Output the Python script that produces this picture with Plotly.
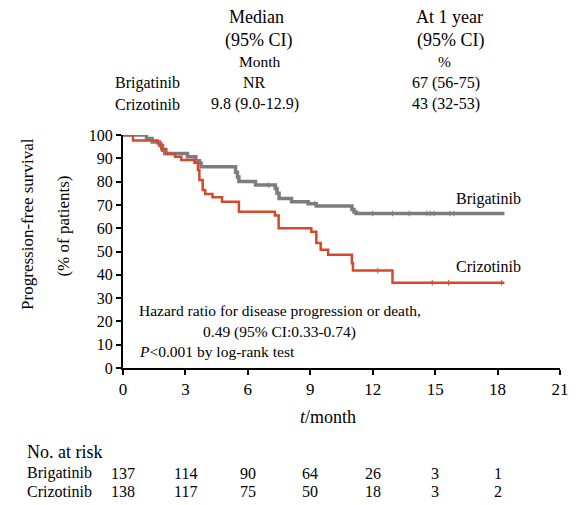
import plotly.graph_objects as go

# ---------------- data ----------------
brig_t = [0, 1.13, 1.4, 1.76, 1.9, 2.0, 3.1, 3.5, 3.67, 3.75, 5.41, 5.5, 5.57, 6.37, 7.32, 7.4, 7.5, 8.1, 8.9, 9.29, 11.0, 11.1, 11.2, 18.33]
brig_s = [100, 98.5, 97, 95.5, 93.5, 92.1, 90.7, 89, 88, 86.4, 84, 82, 80, 78.5, 77, 75, 72.8, 71.4, 70.5, 69.5, 68, 67, 66.3, 66.3]
criz_t = [0, 0.48, 1.67, 1.84, 2.08, 2.5, 2.8, 3.43, 3.6, 3.67, 3.83, 3.95, 4.3, 4.76, 5.57, 7.3, 7.48, 9.05, 9.29, 9.5, 9.86, 11.0, 11.05, 12.95, 18.33]
criz_s = [100, 97.6, 96.4, 94, 91.8, 90.7, 89.3, 88.1, 85, 80.7, 76.4, 74.7, 73.3, 71.4, 67.1, 65.5, 60, 58.5, 53.6, 50.7, 48.6, 45, 41.8, 36.6, 36.6]
brig_censor = [7.0, 9.22, 12.0, 12.95, 13.75, 14.6, 14.76, 14.95, 15.7, 15.9]
criz_censor = [12.24, 14.86, 15.65, 18.2]

x_ticks = [0, 3, 6, 9, 12, 15, 18, 21]
y_ticks = [0, 10, 20, 30, 40, 50, 60, 70, 80, 90, 100]
risk_times = [0, 3, 6, 9, 12, 15, 18]
risk_brig = [137, 114, 90, 64, 26, 3, 1]
risk_criz = [138, 117, 75, 50, 18, 3, 2]

header_rows = ["Brigatinib", "Crizotinib"]
median_vals = ["NR", "9.8 (9.0-12.9)"]
year_vals = ["67 (56-75)", "43 (32-53)"]

GRAY = "#7d7d7d"
RED = "#d6482c"
FONT = "Liberation Serif"

def step_at(ts, ss, t):
    v = ss[0]
    for ti, si in zip(ts, ss):
        if ti <= t:
            v = si
    return v

# ---------------- layout geometry (pixels) ----------------
OFF = 8  # page body margin
W, H = 581 - OFF, 505 - OFF
L, R, T, B = 123 - OFF, 17, 135 - OFF, 137
PW, PH = W - L - R, H - T - B

def px(x):
    return (x - OFF - L) / PW

def py(y):
    return (H - B - (y - OFF)) / PH

fig = go.Figure()
fig.add_trace(go.Scatter(x=brig_t, y=brig_s, mode="lines", line=dict(color=GRAY, width=3.5, shape="hv"),
                         cliponaxis=False, showlegend=False, hoverinfo="skip"))
fig.add_trace(go.Scatter(x=criz_t, y=criz_s, mode="lines", line=dict(color=RED, width=2.5, shape="hv"),
                         cliponaxis=False, showlegend=False, hoverinfo="skip"))
fig.add_trace(go.Scatter(x=brig_censor, y=[step_at(brig_t, brig_s, t) for t in brig_censor], mode="markers",
                         marker=dict(symbol="line-ns", size=4, line=dict(color=GRAY, width=1)),
                         showlegend=False, hoverinfo="skip"))
fig.add_trace(go.Scatter(x=criz_censor, y=[step_at(criz_t, criz_s, t) for t in criz_censor], mode="markers",
                         marker=dict(symbol="line-ns", size=4, line=dict(color=RED, width=1)),
                         showlegend=False, hoverinfo="skip"))

ann = []
def A(text, x, y, size, xanchor="center", xref="paper", yref="paper", **kw):
    ann.append(dict(text=text, x=x, y=y, xref=xref, yref=yref, xanchor=xanchor, yanchor="middle",
                    showarrow=False, font=dict(family=FONT, size=size, color="black"), **kw))

# header table
A("Median", px(258), py(17), 18)
A("(95% CI)", px(260), py(40), 18)
A("Month", px(261), py(61), 15.5)
A("At 1 year", px(452), py(17), 18)
A("(95% CI)", px(453), py(40), 18)
A("%", px(447), py(61), 15.5)
for i, name in enumerate(header_rows):
    yy = [83, 104][i]
    A(name, px(113), py(yy), 16, xanchor="left")
    A(median_vals[i], px(256), py(yy), 16)
    A(year_vals[i], px(449), py(yy), 16)

# curve labels
A("Brigatinib", 15.9, 72.5, 16, xanchor="left", xref="x", yref="y")
A("Crizotinib", 15.9, 43.5, 16, xanchor="left", xref="x", yref="y")

# hazard text
A("Hazard ratio for disease progression or death,", 0.65, 24.5, 15.5, xanchor="left", xref="x", yref="y")
A("0.49 (95% CI:0.33-0.74)", 7.5, 15.5, 15.5, xref="x", yref="y")
A("<i>P</i>&lt;0.001 by log-rank test", 0.65, 7.0, 15.5, xanchor="left", xref="x", yref="y")

# y title
A("Progression-free survival", px(26), py(224), 17, textangle=-90)
A("(% of patients)", px(62), py(226), 17, textangle=-90)

# x title
A("<i>t</i>/month", px(330), py(417), 18)

# at risk table
A("No. at risk", px(24), py(452), 18, xanchor="left")
A("Brigatinib", px(24), py(473), 16, xanchor="left")
A("Crizotinib", px(24), py(491), 16, xanchor="left")
for t, b, c in zip(risk_times, risk_brig, risk_criz):
    A(str(b), t, py(473), 16, xref="x")
    A(str(c), t, py(491), 16, xref="x")

fig.update_layout(
    width=W, height=H, autosize=False,
    margin=dict(l=L, r=R, t=T, b=B),
    paper_bgcolor="white", plot_bgcolor="white",
    font=dict(family=FONT, color="black"),
    annotations=ann,
    xaxis=dict(range=[0, 21], tickvals=x_ticks, ticks="outside", ticklen=5, tickwidth=2, tickcolor="black",
               showline=True, linewidth=2, linecolor="black", showgrid=False, zeroline=False,
               tickfont=dict(family=FONT, size=17, color="black")),
    yaxis=dict(range=[0, 100], tickvals=y_ticks, ticks="outside", ticklen=5, tickwidth=2, tickcolor="black",
               showline=True, linewidth=2, linecolor="black", showgrid=False, zeroline=False,
               tickfont=dict(family=FONT, size=16, color="black")),
)

fig.write_html("out.html")
